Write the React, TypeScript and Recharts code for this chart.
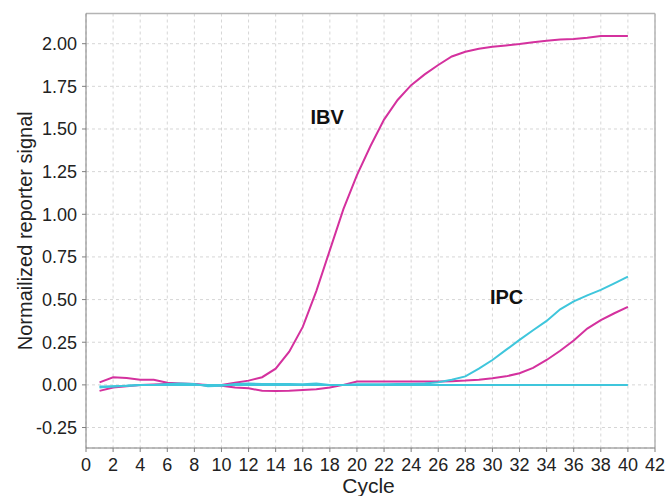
import React from "react";
import {
  LineChart,
  Line,
  XAxis,
  YAxis,
  CartesianGrid,
  ReferenceLine,
  ReferenceDot,
  Label,
} from "recharts";

const cycles = [
  1, 2, 3, 4, 5, 6, 7, 8, 9, 10, 11, 12, 13, 14, 15, 16, 17, 18, 19, 20,
  21, 22, 23, 24, 25, 26, 27, 28, 29, 30, 31, 32, 33, 34, 35, 36, 37, 38, 39, 40,
];

const ibvMagenta = [
  0.015, 0.045, 0.04, 0.03, 0.03, 0.012, 0.008, 0.005, -0.005, 0.0,
  0.012, 0.025, 0.045, 0.095, 0.195, 0.34, 0.55, 0.79, 1.03, 1.23,
  1.4, 1.555, 1.67, 1.757, 1.82, 1.875, 1.925, 1.953, 1.97, 1.982,
  1.99, 1.998, 2.008, 2.017, 2.025, 2.027, 2.035, 2.045, 2.045, 2.045,
];

const ipcMagenta = [
  -0.035, -0.015, -0.008, 0.0, 0.002, 0.005, 0.005, 0.003, 0.0, -0.005,
  -0.015, -0.02, -0.035, -0.036, -0.034, -0.03, -0.025, -0.015, 0.0, 0.02,
  0.02, 0.02, 0.02, 0.02, 0.02, 0.02, 0.022, 0.025, 0.03, 0.039,
  0.05, 0.068, 0.1, 0.146, 0.2, 0.26, 0.33, 0.38, 0.42, 0.457,
];

const ipcCyan = [
  -0.015, -0.008, -0.005, 0.0, 0.0, 0.005, 0.008, 0.005, -0.008, -0.005,
  0.005, 0.008, 0.005, 0.005, 0.005, 0.003, 0.008, 0.0, 0.0, 0.003,
  0.003, 0.003, 0.005, 0.005, 0.008, 0.015, 0.03, 0.05, 0.095, 0.146,
  0.205, 0.264, 0.32, 0.375, 0.443, 0.49, 0.525, 0.557, 0.595, 0.634,
];

const flatCyan = [
  -0.01, -0.01, -0.005, 0.0, 0.0, 0.0, 0.0, 0.0, 0.0, 0.0,
  0.0, 0.0, 0.0, 0.0, 0.0, 0.0, 0.0, 0.0, 0.0, 0.0,
  0.0, 0.0, 0.0, 0.0, 0.0, 0.0, 0.0, 0.0, 0.0, 0.0,
  0.0, 0.0, 0.0, 0.0, 0.0, 0.0, 0.0, 0.0, 0.0, 0.0,
];

const xTicks = [0, 2, 4, 6, 8, 10, 12, 14, 16, 18, 20, 22, 24, 26, 28, 30, 32, 34, 36, 38, 40, 42];
const yTicks = [-0.25, 0, 0.25, 0.5, 0.75, 1.0, 1.25, 1.5, 1.75, 2.0];

const X_MIN = 0;
const X_MAX = 42;
const Y_MIN = -0.37;
const Y_MAX = 2.177;

const annotations = [
  { text: "IBV", cycle: 17.8, value: 1.572 },
  { text: "IPC", cycle: 31.05, value: 0.517 },
];

const data = cycles.map((c, i) => ({
  cycle: c,
  ibvMagenta: ibvMagenta[i],
  ipcMagenta: ipcMagenta[i],
  ipcCyan: ipcCyan[i],
  flatCyan: flatCyan[i],
}));

const MAGENTA = "#d4319e";
const CYAN = "#3fc6dc";
const AXIS = "#7f7f7f";
const BORDER = "#b4b4b4";
const FONT = "'Liberation Sans', Arial, sans-serif";

export default function App() {
  return (
    <div style={{ position: "absolute", left: 0, top: 0, background: "#fff" }}>
      <LineChart
        width={668}
        height={496}
        data={data}
        margin={{ top: 13.5, right: 13, bottom: 0, left: 0 }}
        style={{ fontFamily: FONT }}
      >
        <CartesianGrid stroke="#d6d6d6" strokeDasharray="3 3" />
        <XAxis
          dataKey="cycle"
          type="number"
          domain={[X_MIN, X_MAX]}
          ticks={xTicks}
          interval={0}
          height={48}
          stroke={AXIS}
          tickSize={4}
          tickMargin={6}
          tick={{ fill: "#222", fontSize: 18, fontFamily: FONT }}
          allowDataOverflow
        >
          <Label
            content={(p: any) => {
              const vb = p.viewBox || { x: 86, y: 448, width: 569, height: 48 };
              return (
                <text
                  x={vb.x + vb.width / 2 - 2}
                  y={493}
                  textAnchor="middle"
                  fontSize={21}
                  fill="#222"
                  fontFamily={FONT}
                >
                  Cycle
                </text>
              );
            }}
          />
        </XAxis>
        <YAxis
          type="number"
          domain={[Y_MIN, Y_MAX]}
          ticks={yTicks}
          interval={0}
          width={86}
          stroke={AXIS}
          tickSize={4}
          tickMargin={5}
          tickFormatter={(v: number) => v.toFixed(2)}
          tick={{ fill: "#222", fontSize: 18, fontFamily: FONT }}
          allowDataOverflow
        >
          <Label
            content={(p: any) => {
              const vb = p.viewBox || { x: 0, y: 13.5, width: 86, height: 434.5 };
              const cx = vb.x + 25;
              const cy = vb.y + vb.height / 2;
              return (
                <text
                  x={cx}
                  y={cy}
                  transform={`rotate(-90 ${cx} ${cy})`}
                  textAnchor="middle"
                  dominantBaseline="central"
                  fontSize={20}
                  fill="#222"
                  fontFamily={FONT}
                >
                  Normailized reporter signal
                </text>
              );
            }}
          />
        </YAxis>
        <ReferenceLine y={Y_MAX} stroke={BORDER} strokeWidth={1.5} />
        <ReferenceLine x={X_MAX} stroke={BORDER} strokeWidth={1.5} />
        <Line
          type="linear"
          dataKey="ipcMagenta"
          stroke={MAGENTA}
          strokeWidth={2}
          dot={false}
          isAnimationActive={false}
        />
        <Line
          type="linear"
          dataKey="ibvMagenta"
          stroke={MAGENTA}
          strokeWidth={2}
          dot={false}
          isAnimationActive={false}
        />
        <Line
          type="linear"
          dataKey="flatCyan"
          stroke={CYAN}
          strokeWidth={2}
          dot={false}
          isAnimationActive={false}
        />
        <Line
          type="linear"
          dataKey="ipcCyan"
          stroke={CYAN}
          strokeWidth={2}
          dot={false}
          isAnimationActive={false}
        />
        {annotations.map((a) => (
          <ReferenceDot
            key={a.text}
            x={a.cycle}
            y={a.value}
            r={0}
            fill="none"
            stroke="none"
            label={{
              value: a.text,
              position: "center",
              fontSize: 20,
              fontWeight: "bold",
              fill: "#111",
              fontFamily: FONT,
            }}
          />
        ))}
      </LineChart>
    </div>
  );
}
